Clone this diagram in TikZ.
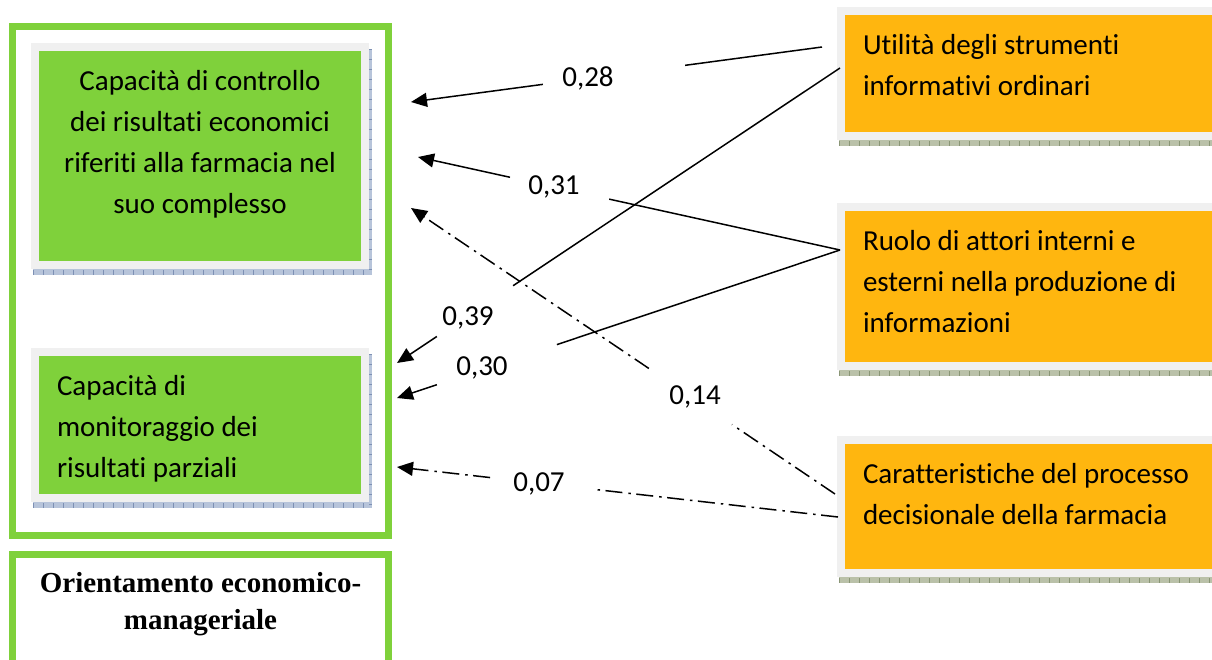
\documentclass[tikz,border=0pt]{standalone}
\usepackage{fontspec}
\setmainfont{Carlito}[Ligatures={NoCommon}]
\newfontfamily\titlefont{Liberation Serif}
\usetikzlibrary{arrows.meta,calc,backgrounds}
\definecolor{BoxGreen}{HTML}{7FD13B}
\definecolor{BoxOrange}{HTML}{FFB60F}
\definecolor{BorderGray}{HTML}{F0F0F0}
\definecolor{ShadeBlue}{HTML}{B7C4DA}
\definecolor{TickBlue}{HTML}{7D90B4}
\definecolor{ShadeOlive}{HTML}{BAC1A9}
\definecolor{TickOlive}{HTML}{8A9676}
% top aligned text inside a box of fixed size
\newcommand{\boxtext}[4]{\parbox[c][#1][t]{#2}{#3\strut #4}}

\begin{document}
\begin{tikzpicture}[x=1pt,y=-1pt,
  frame/.style={rectangle,draw=BoxGreen,line width=7pt,inner sep=0pt},
  greenbox/.style={rectangle,draw=BorderGray,fill=BoxGreen,line width=8pt,inner xsep=22pt,inner ysep=15pt,font=\fontsize{29}{41}\selectfont},
  orangebox/.style={greenbox,fill=BoxOrange},
  weight/.style={font=\fontsize{29}{35}\selectfont,anchor=base,inner sep=0pt},
  link/.style={line width=1.5pt},
  arrow/.style={link,-{Triangle[length=16pt,width=14pt]}},
  dashdot/.style={dash pattern=on 17pt off 5.5pt on 2.5pt off 6pt}
]
\useasboundingbox (0,0) rectangle (1212,659);
\clip (0,0) rectangle (1212,659);

% left side
\node[frame,minimum width=376pt,minimum height=509pt] (orient) at (200.5,281) {};
\node[frame,minimum width=376pt,minimum height=166pt,font=\titlefont\bfseries\fontsize{29}{37}\selectfont] (title) at (200.5,637.5)
  {\boxtext{141pt}{330pt}{\centering}{Orientamento economico-\\manageriale}};
\node[greenbox,minimum width=330pt,minimum height=218pt] (control) at (200,156)
  {\boxtext{188pt}{286pt}{\centering}{Capacità di controllo\\dei risultati economici\\riferiti alla farmacia nel\\suo complesso}};
\node[greenbox,minimum width=330pt,minimum height=146pt] (monitor) at (200,425)
  {\boxtext{116pt}{286pt}{\raggedright}{Capacità di\\monitoraggio dei\\risultati parziali}};

% right side
\node[orangebox,minimum width=389pt,minimum height=125pt] (util) at (1035.5,73.5)
  {\boxtext{95pt}{345pt}{\raggedright}{Utilità degli strumenti\\informativi ordinari}};
\node[orangebox,minimum width=389pt,minimum height=159pt] (ruolo) at (1035.5,286.5)
  {\boxtext{129pt}{345pt}{\raggedright}{Ruolo di attori interni e\\esterni nella produzione di\\informazioni}};
\node[orangebox,minimum width=389pt,minimum height=133pt] (carat) at (1035.5,506.5)
  {\boxtext{103pt}{345pt}{\raggedright}{Caratteristiche del processo\\decisionale della farmacia}};

% shadows
\begin{scope}[on background layer]
\foreach \b in {control,monitor} {
  \fill[ShadeBlue] ([xshift=2pt,yshift=-6pt]\b.south west) rectangle ([xshift=3pt,yshift=-6pt]\b.north east);
  \draw[TickBlue,line width=5pt,dash pattern=on 1pt off 9pt] ([xshift=2pt,yshift=-3pt]\b.south west) -- ([xshift=3pt,yshift=-3pt]\b.south east);
  \draw[TickBlue,line width=3pt,dash pattern=on 1pt off 9pt] ([xshift=1.5pt,yshift=-6pt]\b.north east) -- ([xshift=1.5pt,yshift=-6pt]\b.south east);
}
\foreach \b in {util,ruolo,carat} {
  \fill[ShadeOlive] ([xshift=2pt,yshift=-6pt]\b.south west) rectangle ([xshift=3pt,yshift=-6pt]\b.north east);
  \draw[TickOlive,line width=5pt,dash pattern=on 1pt off 9pt] ([xshift=2pt,yshift=-3pt]\b.south west) -- ([xshift=3pt,yshift=-3pt]\b.south east);
}
\end{scope}

% connector ends
\coordinate (util-a) at (822,47);
\coordinate (util-b) at (840,68);
\coordinate (ruolo-out) at (840,250);
\coordinate (carat-a) at (835,494);
\coordinate (carat-b) at (838,517);
\coordinate (tip28) at (411,102);
\coordinate (tip31) at (418,157);
\coordinate (tip39) at (397,363);
\coordinate (tip30) at (397,398);
\coordinate (tip14) at (411,208);
\coordinate (tip07) at (397,467);

% connectors
\draw[link] (util-a) -- ($(util-a)!0.333!(tip28)$);
\draw[arrow] ($(util-a)!0.679!(tip28)$) -- (tip28);
\draw[link] (ruolo-out) -- ($(ruolo-out)!0.547!(tip31)$);
\draw[arrow] ($(ruolo-out)!0.782!(tip31)$) -- (tip31);
\draw[link] (util-b) -- ($(util-b)!0.738!(tip39)$);
\draw[arrow] ($(util-b)!0.910!(tip39)$) -- (tip39);
\draw[link] (ruolo-out) -- ($(ruolo-out)!0.639!(tip30)$);
\draw[arrow] ($(ruolo-out)!0.910!(tip30)$) -- (tip30);
\draw[link,dashdot] (carat-a) -- ($(carat-a)!0.243!(tip14)$);
\draw[arrow,dashdot] ($(carat-a)!0.439!(tip14)$) -- (tip14);
\draw[link,dashdot] (carat-b) -- ($(carat-b)!0.558!(tip07)$);
\draw[arrow,dashdot] ($(carat-b)!0.789!(tip07)$) -- (tip07);

% weights
\node[weight] (w28) at (588,86) {0,28};
\node[weight] (w31) at (554,194) {0,31};
\node[weight] (w39) at (468,325) {0,39};
\node[weight] (w30) at (482,375) {0,30};
\node[weight] (w14) at (695,404) {0,14};
\node[weight] (w07) at (539,491) {0,07};
\end{tikzpicture}
\end{document}
